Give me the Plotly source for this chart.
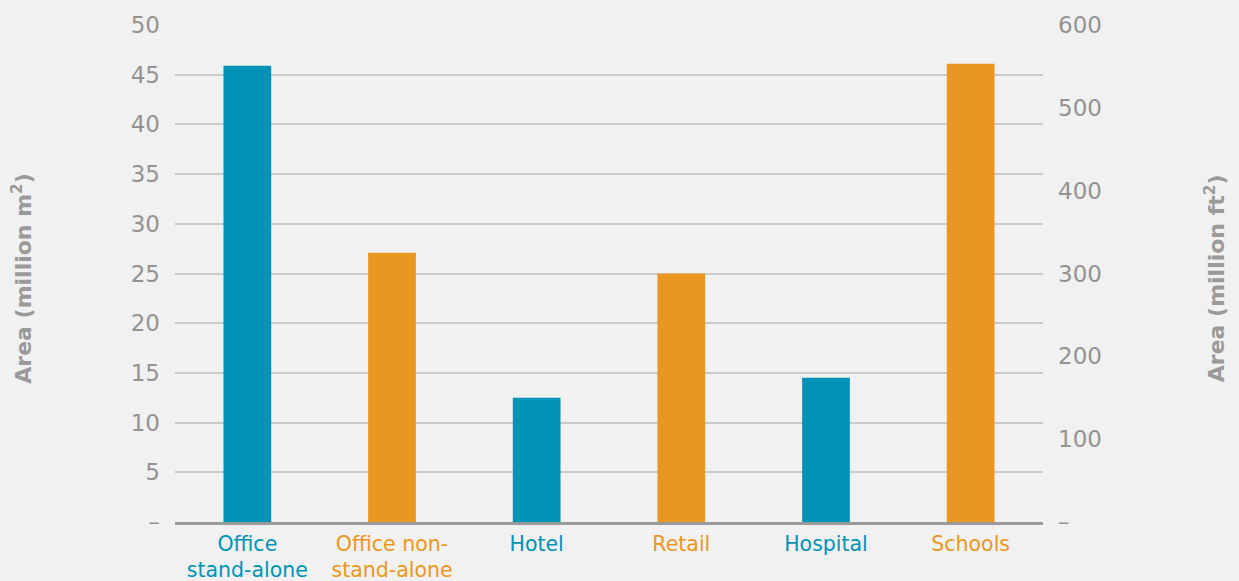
import plotly.graph_objects as go

categories = ["Office<br>stand-alone", "Office non-<br>stand-alone", "Hotel", "Retail", "Hospital", "Schools"]
values_m2 = [45.9, 27.1, 12.5, 25.0, 14.5, 46.1]
bar_colors = ["#0093b5", "#ea9722", "#0093b5", "#ea9722", "#0093b5", "#ea9722"]
left_ticks = [0, 5, 10, 15, 20, 25, 30, 35, 40, 45, 50]
left_labels = ["–", "5", "10", "15", "20", "25", "30", "35", "40", "45", "50"]
right_ticks = [0, 100, 200, 300, 400, 500, 600]
right_labels = ["–", "100", "200", "300", "400", "500", "600"]

FONT = "DejaVu Sans ExtraLight, DejaVu Sans"
TITLE_FONT = "DejaVu Sans"
GRAY = "#939393"

ticktext = [f"<span style='color:{c}'>{t}</span>" for t, c in zip(categories, bar_colors)]

fig = go.Figure()
fig.add_trace(go.Bar(
    x=list(range(len(categories))), y=values_m2,
    marker=dict(color=bar_colors, line=dict(width=0)),
    width=0.33, showlegend=False, hoverinfo="skip",
))
# invisible trace for the secondary axis
fig.add_trace(go.Scatter(x=[0], y=[0], yaxis="y2", mode="markers",
                         marker=dict(opacity=0), showlegend=False, hoverinfo="skip"))

fig.update_layout(
    width=1239, height=581, autosize=False,
    paper_bgcolor="#f1f1f1", plot_bgcolor="#f1f1f1",
    margin=dict(l=175, r=196, t=25, b=59, pad=0, autoexpand=False),
    font=dict(family=FONT, color=GRAY, size=21),
    xaxis=dict(
        tickmode="array", tickvals=list(range(len(categories))), ticktext=ticktext,
        range=[-0.5, 5.5], showline=True, linecolor="#9a9a9a", linewidth=3,
        showgrid=False, zeroline=False, ticks="", tickfont=dict(size=20.5),
        ticklabelstandoff=1, automargin=False, fixedrange=True,
    ),
    yaxis=dict(
        range=[0, 50], tickmode="array", tickvals=left_ticks, ticktext=left_labels,
        showgrid=True, gridcolor="#cacaca", gridwidth=1.5, zeroline=False, automargin=False,
        showline=False, ticks="", ticklabelstandoff=14, tickfont=dict(size=23, color=GRAY),
    ),
    yaxis2=dict(
        range=[0, 600], overlaying="y", side="right", tickmode="array", automargin=False,
        tickvals=right_ticks, ticktext=right_labels, showgrid=False, zeroline=False,
        showline=False, ticks="", ticklabelstandoff=14, tickfont=dict(size=23, color=GRAY),
    ),
    annotations=[
        dict(text="<b>Area (million m<sup>2</sup>)</b>", textangle=-90, xref="paper", yref="paper",
             x=-0.176, y=0.49, showarrow=False, font=dict(size=22, color="#9a9a9a", family=TITLE_FONT),
             xanchor="center", yanchor="middle"),
        dict(text="<b>Area (million ft<sup>2</sup>)</b>", textangle=-90, xref="paper", yref="paper",
             x=1.199, y=0.49, showarrow=False, font=dict(size=22, color="#9a9a9a", family=TITLE_FONT),
             xanchor="center", yanchor="middle"),
    ],
)

fig.write_html("out.html", config={"displayModeBar": False},
               post_script="document.body.style.margin='0';document.body.style.background='#f1f1f1';")
